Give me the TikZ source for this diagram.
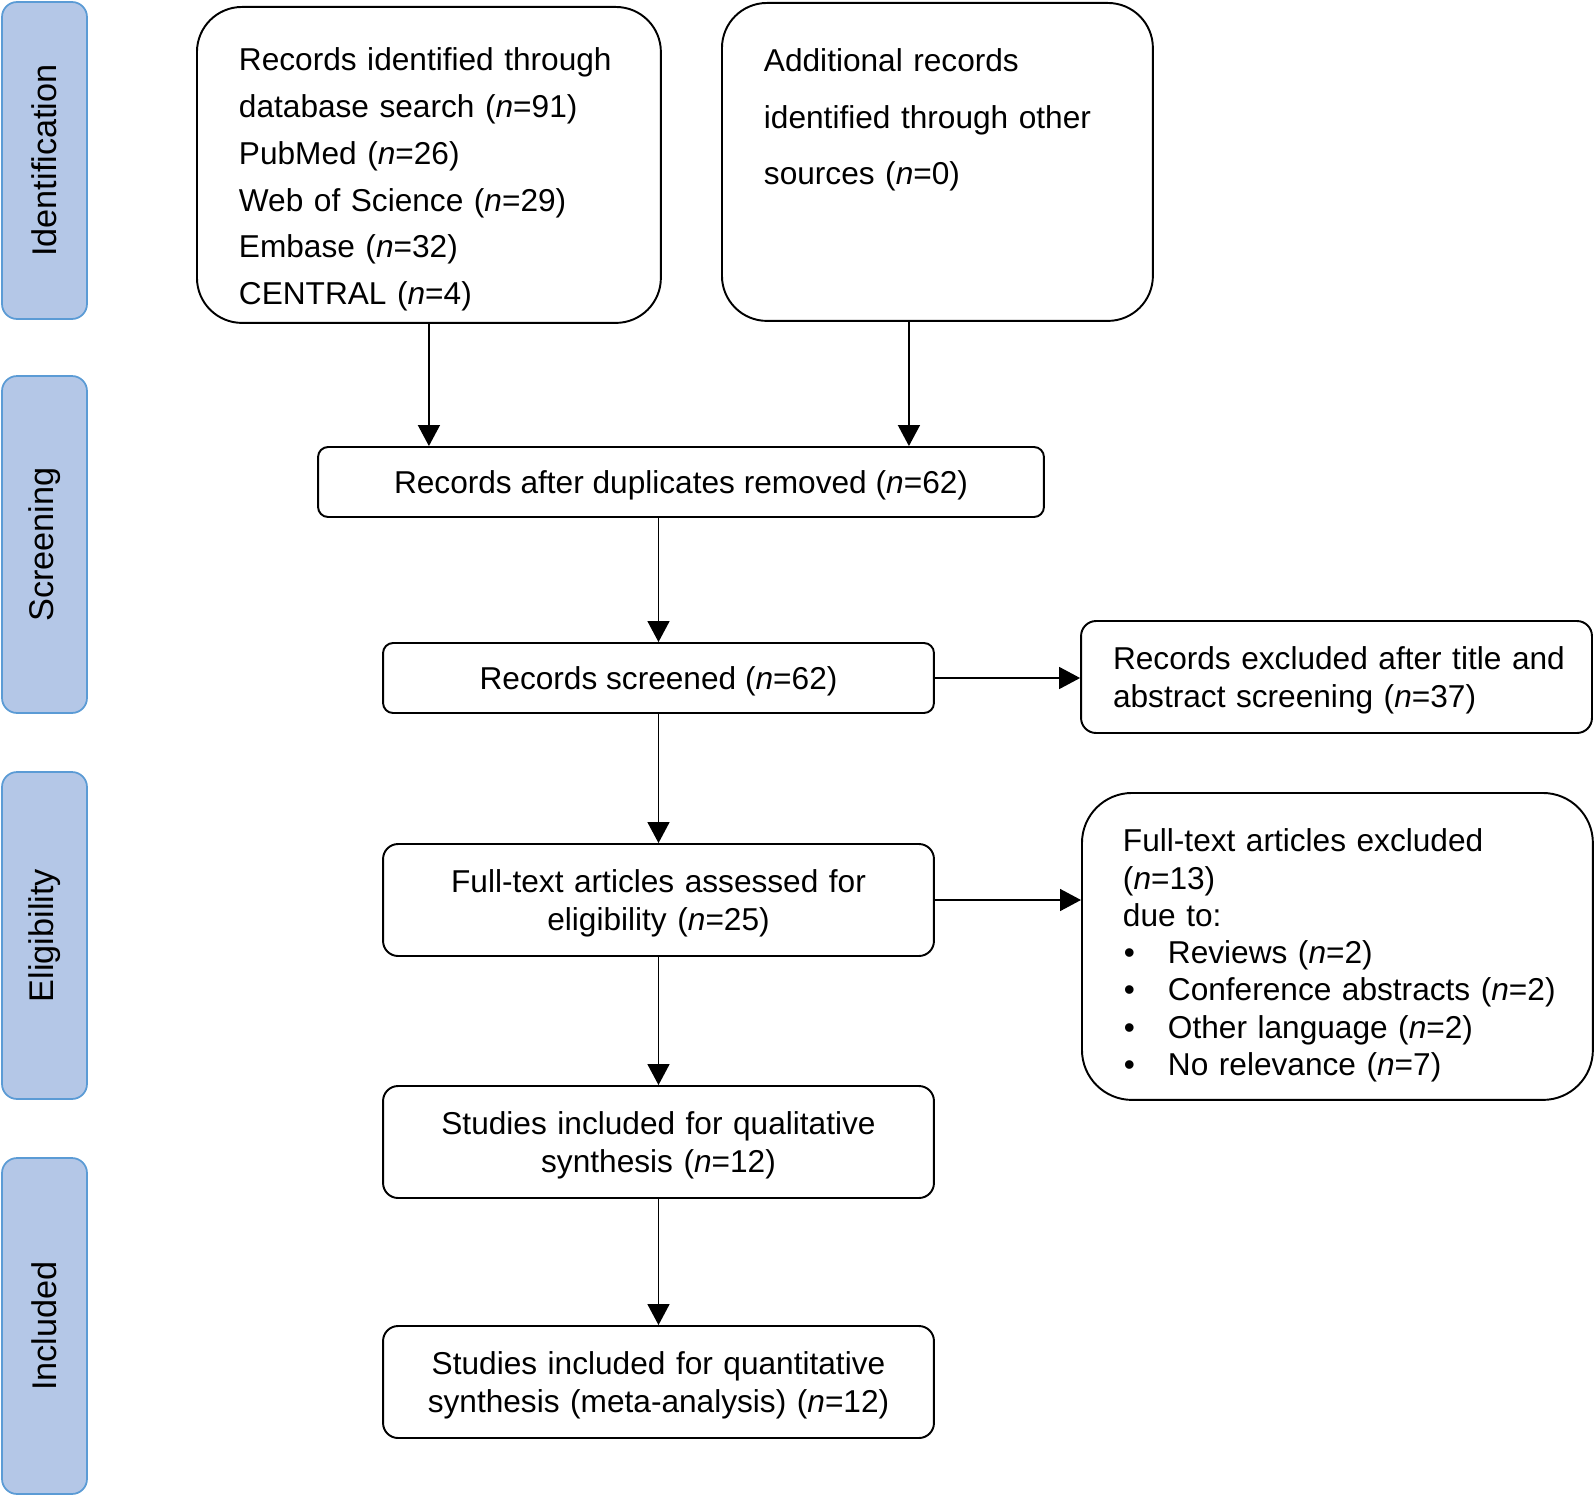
\documentclass[tikz,border=0pt]{standalone}
\usepackage{fontspec}
\setmainfont{Liberation Sans}
\usetikzlibrary{arrows.meta}
\definecolor{stagefill}{RGB}{180,199,231}
\definecolor{stageline}{RGB}{91,155,213}
\tikzset{
  box/.style={draw=black, line width=1.1pt, rounded corners=0.3cm, inner sep=0pt, align=center, text height=17pt, font=\fontsize{18}{21.3}\selectfont},
  stage/.style={draw=stageline, fill=stagefill, line width=1pt, rounded corners=0.3cm, rotate=90, minimum height=1.7cm, inner sep=0pt, font=\fontsize{19.5}{23}\selectfont},
  arr/.style={-{Triangle[length=0.42cm,width=0.44cm]}, line width=0.9pt},
}
\begin{document}
\begin{tikzpicture}[x=0.02cm,y=-0.02cm]
\useasboundingbox (0,0) rectangle (1594,1497);
% stages on the left
\node[stage, minimum width=6.34cm] (ident) at (44.5,160.5) {Identification};
\node[stage, minimum width=6.74cm] (screen) at (44.5,544.5) {Screening};
\node[stage, minimum width=6.54cm] (elig) at (44.5,935.5) {Eligibility};
\node[stage, minimum width=6.72cm] (incl) at (44.5,1326) {Included};
% identification
\node[box, anchor=north west, align=left, rounded corners=0.9cm, inner xsep=0.84cm, text width=7.6cm, text height=1.28cm, text depth=5.04cm, font=\fontsize{18}{26.6}\selectfont] (db) at (196,6) {Records identified through\\ database search (\textit{n}=91)\\ PubMed (\textit{n}=26)\\ Web of Science (\textit{n}=29)\\ Embase (\textit{n}=32)\\ CENTRAL (\textit{n}=4)};
\node[box, anchor=north west, align=left, rounded corners=0.9cm, inner xsep=0.84cm, text width=6.94cm, text height=1.38cm, text depth=4.98cm, font=\fontsize{18}{31.9}\selectfont] (other) at (721,2) {Additional records\\ identified through other\\ sources (\textit{n}=0)};
% screening
\node[box, rounded corners=0.2cm, minimum width=14.52cm, minimum height=1.4cm] (dup) at (681,482) {Records after duplicates removed (\textit{n}=62)};
\node[box, rounded corners=0.2cm, minimum width=11.02cm, minimum height=1.4cm] (scr) at (658.5,678) {Records screened (\textit{n}=62)};
\node[box, align=left, inner xsep=0.64cm, text width=8.94cm, minimum height=2.24cm] (excl1) at (1336.5,677) {\mbox{Records excluded after title and}\\ abstract screening (\textit{n}=37)};
% eligibility
\node[box, text width=10.4cm, minimum width=11.02cm, minimum height=2.24cm] (ft) at (658.5,900) {Full-text articles assessed for\\ eligibility (\textit{n}=25)};
\node[box, anchor=north west, align=left, rounded corners=1cm, inner xsep=0.74cm, text width=8.74cm, text height=1.18cm, text depth=4.96cm, font=\fontsize{18}{21.2}\selectfont] (excl2) at (1081,792) {\hspace*{0.08cm}Full-text articles excluded\\ \hspace*{0.08cm}(\textit{n}=13)\\ \hspace*{0.08cm}due to:\\
\hspace*{0.1cm}\makebox[0.88cm][l]{\textbullet}Reviews (\textit{n}=2)\\
\hspace*{0.1cm}\makebox[0.88cm][l]{\textbullet}Conference abstracts (\textit{n}=2)\\
\hspace*{0.1cm}\makebox[0.88cm][l]{\textbullet}Other language (\textit{n}=2)\\
\hspace*{0.1cm}\makebox[0.88cm][l]{\textbullet}No relevance (\textit{n}=7)};
% included
\node[box, text width=10.4cm, minimum width=11.02cm, minimum height=2.24cm] (qual) at (658.5,1142) {Studies included for qualitative\\ synthesis (\textit{n}=12)};
\node[box, text width=10.4cm, minimum width=11.02cm, minimum height=2.24cm] (quant) at (658.5,1382) {Studies included for quantitative\\ synthesis (meta-analysis) (\textit{n}=12)};
% arrows
\draw[arr] (db.south) -- (db.south |- dup.north);
\draw[arr] ([xshift=-0.57cm]other.south) -- ([xshift=-0.57cm]other.south |- dup.north);
\draw[arr] (dup.south -| scr.north) -- (scr.north);
\draw[arr] (scr) -- (ft);
\draw[arr] (scr.east) -- (scr.east -| excl1.west);
\draw[arr] (ft) -- (qual);
\draw[arr] (ft.east) -- (ft.east -| excl2.west);
\draw[arr] (qual) -- (quant);
\end{tikzpicture}
\end{document}
